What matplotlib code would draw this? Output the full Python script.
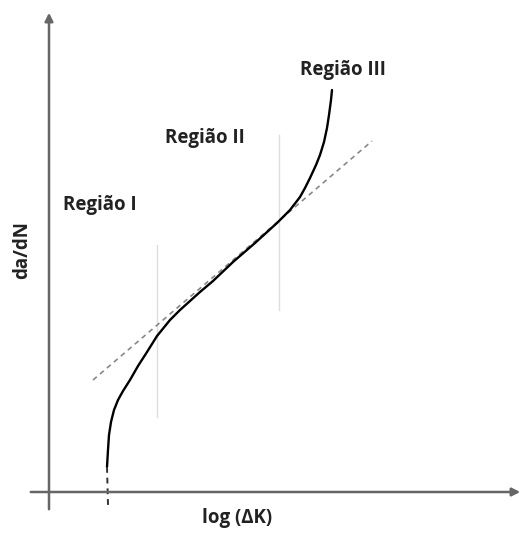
import matplotlib.pyplot as plt

# schematic of crack growth rate (da/dN) vs log(dK), coordinates read in image pixels
curve_x = [107, 108, 109, 111, 114, 118, 123, 130, 138, 147, 157, 170, 180, 200, 213, 233, 255, 277,
           290, 300, 305, 310, 316, 320, 324, 327, 329, 331, 332]
curve_y = [467, 450, 435, 422, 410, 400, 391, 380, 366, 352, 336, 320, 310, 292, 281, 262, 243, 223,
           210, 197, 188, 178, 165, 155, 142, 128, 115, 100, 90]

tail_x = [107, 108]
tail_y = [467, 505]

paris_x = [93, 372]
paris_y = [380, 141]

bounds_x = [157, 279]
bounds_top = [245, 135]
bounds_bottom = [417, 310]

labels = ['Região I', 'Região II', 'Região III']
label_x = [100, 205, 343]
label_y = [205, 138, 70]

fig = plt.figure(figsize=(5.24, 5.33), dpi=100)
ax = fig.add_axes([0, 0, 1, 1])
ax.set_xlim(0, 524)
ax.set_ylim(533, 0)
ax.axis('off')

# axes with arrows
ax.annotate('', xy=(49, 10), xytext=(49, 512),
            arrowprops=dict(arrowstyle='-|>', color='#666666', lw=1.8, mutation_scale=12))
ax.annotate('', xy=(523, 492), xytext=(28, 492),
            arrowprops=dict(arrowstyle='-|>', color='#666666', lw=1.8, mutation_scale=12))

# region boundaries
for x, t, b in zip(bounds_x, bounds_top, bounds_bottom):
    ax.plot([x, x], [t, b], color='#dddddd', lw=1)

ax.plot(paris_x, paris_y, color='#888888', lw=1.2, linestyle=(0, (3, 2.5)))
ax.plot(curve_x, curve_y, color='black', lw=1.7, solid_joinstyle='round', solid_capstyle='round')
ax.plot(tail_x, tail_y, color='#333333', lw=1.4, linestyle=(0, (3, 2.5)))

fnt = dict(fontsize=13.5, fontweight='bold', family='Open Sans', color='#222222')
for t, x, y in zip(labels, label_x, label_y):
    ax.text(x, y, t, ha='center', va='center', **fnt)

ax.text(237, 518, 'log (ΔK)', ha='center', va='center', **fnt)
ax.text(22, 250, 'da/dN', ha='center', va='center', rotation=90, **fnt)

plt.savefig('out.png', dpi=100)
